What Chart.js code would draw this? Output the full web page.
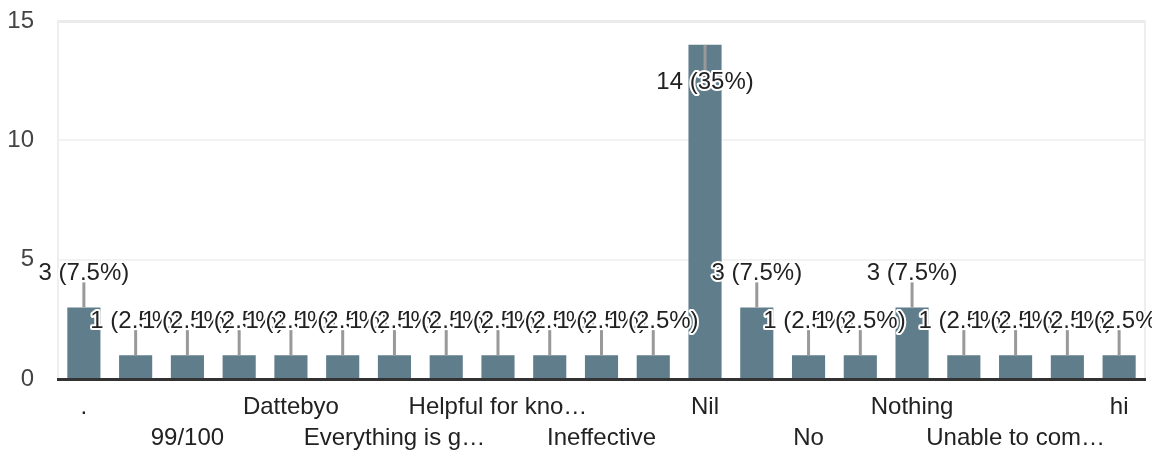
<!DOCTYPE html>
<html>
<head>
<meta charset="utf-8">
<script src="https://cdn.jsdelivr.net/npm/chart.js@4.4.0/dist/chart.umd.min.js"></script>
<style>
    html, body { margin: 0; padding: 0; background: #fff; }
    #wrap { width: 1152px; height: 454px; }
</style>
</head>
<body>
<div id="wrap"><canvas id="respuestasChart" width="1152" height="454"></canvas></div>
<script>
// categorias (solo se leen las etiquetas visibles, las demas quedan vacias)
const categorias = [
    '.', '', '99/100', '', 'Dattebyo', '', 'Everything is g…', '',
    'Helpful for kno…', '', 'Ineffective', '', 'Nil', '', 'No', '',
    'Nothing', '', 'Unable to com…', '', 'hi'
];
const respuestas = [3, 1, 1, 1, 1, 1, 1, 1, 1, 1, 1, 1, 14, 3, 1, 1, 3, 1, 1, 1, 1];
const marcasY = [0, 5, 10, 15];

const FUENTE = '"Liberation Sans", Arial, sans-serif';
const total = respuestas.reduce((a, b) => a + b, 0);

// etiquetas "n (x%)" con linea guia
const etiquetasValor = {
    id: 'etiquetasValor',
    afterDatasetsDraw(chart) {
        const ctx = chart.ctx;
        const area = chart.chartArea;
        const meta = chart.getDatasetMeta(0);
        ctx.save();
        ctx.font = '24px ' + FUENTE;
        ctx.textAlign = 'center';
        ctx.textBaseline = 'middle';
        meta.data.forEach((bar, i) => {
            const v = respuestas[i];
            const pct = parseFloat((v / total * 100).toFixed(1));
            const texto = `${v} (${pct}%)`;
            // si no cabe arriba, va dentro de la barra
            const dir = (bar.y - 35 - 12 < area.top) ? 1 : -1;
            const yTexto = bar.y + (dir > 0 ? 38 : -34);

            ctx.strokeStyle = '#999';
            ctx.lineWidth = 3;
            ctx.beginPath();
            ctx.moveTo(bar.x, bar.y);
            ctx.lineTo(bar.x, bar.y + dir * 25);
            ctx.stroke();

            ctx.lineWidth = 4;
            ctx.lineJoin = 'round';
            ctx.strokeStyle = '#fff';
            ctx.strokeText(texto, bar.x, yTexto);
            ctx.fillStyle = '#222';
            ctx.fillText(texto, bar.x, yTexto);
        });
        ctx.restore();
    }
};

const ctx = document.getElementById('respuestasChart');

new Chart(ctx, {
    type: 'bar',
    data: {
        labels: categorias,
        datasets: [{
            data: respuestas,
            backgroundColor: '#607d8b',
            borderWidth: 0,
            categoryPercentage: 1,
            barPercentage: 0.64
        }]
    },
    options: {
        responsive: false,
        animation: false,
        events: [],
        layout: { padding: 0 },
        plugins: {
            legend: { display: false },
            tooltip: { enabled: false }
        },
        scales: {
            x: {
                grid: { display: false, drawTicks: false },
                border: { color: '#333', width: 3, z: 1 },
                ticks: {
                    autoSkip: false,
                    maxRotation: 0,
                    padding: 13,
                    color: '#222',
                    font: { size: 24, family: FUENTE, lineHeight: 1.3 },
                    callback: function(value, index) {
                        const label = this.getLabelForValue(value);
                        if (index % 2 === 1) return '';
                        //filas alternadas
                        return index % 4 === 2 ? ['', label] : label;
                    }
                },
                afterFit(s) { s.height = 75; }
            },
            y: {
                min: 0,
                max: 15,
                afterBuildTicks(s) { s.ticks = marcasY.map(v => ({ value: v })); },
                ticks: {
                    padding: 24,
                    color: '#444',
                    font: { size: 24, family: FUENTE }
                },
                grid: {
                    drawTicks: false,
                    color: c => c.tick && c.tick.value === 15 ? '#ebebeb' : '#f2f2f2',
                    lineWidth: c => c.tick && c.tick.value === 15 ? 3 : 2
                },
                border: { color: '#eeeeee', width: 2 },
                afterFit(s) {
                    s.width = 58;
                    s.paddingTop = 21;
                    s.paddingBottom = 0;
                }
            },
            yDer: {
                position: 'right',
                min: 0,
                max: 15,
                ticks: { display: false },
                grid: { display: false, drawTicks: false },
                border: { color: '#eeeeee', width: 2 },
                afterFit(s) {
                    s.width = 7;
                    s.paddingTop = 21;
                    s.paddingBottom = 0;
                }
            }
        }
    },
    plugins: [etiquetasValor]
});
</script>
</body>
</html>
